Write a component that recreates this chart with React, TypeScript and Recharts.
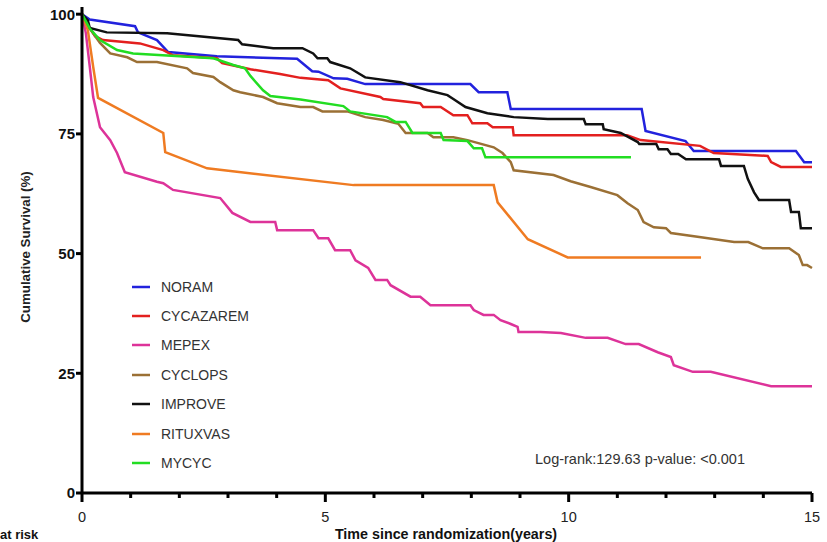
import { LineChart, Line, XAxis, YAxis, Legend } from 'recharts';

// Kaplan-Meier style survival curves (years, %)
const noramT = [0, 0.16, 1.09, 1.15, 1.54, 1.77, 2.77, 4.42, 4.73, 4.86, 5.17, 5.45, 5.82, 7.98, 8.15, 8.74, 8.81, 11.5, 11.58, 12.4, 12.57, 14.67, 14.84, 15];
const noramS = [100, 98.9, 97.5, 96.2, 94.6, 92.1, 91.2, 90.7, 88.1, 88.0, 86.6, 86.5, 85.4, 85.4, 83.7, 83.7, 80.2, 80.2, 75.6, 73.5, 71.4, 71.4, 69.1, 69.1];

const cycazaremT = [0, 0.12, 0.27, 0.43, 1.19, 1.67, 1.87, 2.77, 2.88, 3.46, 4.07, 4.49, 5.06, 5.31, 6.13, 6.19, 6.95, 7.01, 7.37, 7.63, 7.92, 8.02, 8.33, 8.44, 8.85, 8.87, 11.2, 11.48, 12.7, 12.98, 14.09, 14.16, 14.36, 15];
const cycazaremS = [100, 97.7, 95.4, 94.6, 93.9, 92.5, 91.4, 90.8, 89.8, 88.5, 87.5, 86.7, 86.2, 84.5, 82.7, 82.3, 81.4, 80.6, 80.6, 78.9, 78.9, 77.2, 77.2, 76.4, 76.4, 74.7, 74.7, 73.7, 72.5, 71.0, 70.4, 69.1, 68.1, 68.1];

const mepexT = [0, 0.08, 0.16, 0.23, 0.37, 0.58, 0.72, 0.88, 1.54, 1.67, 1.87, 2.84, 3.09, 3.46, 3.97, 4.01, 4.75, 4.86, 5.06, 5.2, 5.51, 5.62, 5.88, 6.03, 6.27, 6.34, 6.75, 6.95, 7.16, 7.98, 8.05, 8.25, 8.46, 8.6, 8.81, 8.95, 8.97, 9.42, 9.84, 10.35, 10.8, 11.17, 11.44, 11.83, 12.1, 12.16, 12.55, 12.92, 14.16, 15];
const mepexS = [100, 96, 89, 82.7, 76.4, 73.7, 71, 67, 65, 64.7, 63.3, 61.6, 58.5, 56.6, 56.6, 54.9, 54.9, 53.2, 53.2, 50.7, 50.7, 48.6, 47, 44.5, 44.5, 43.4, 41, 41, 39.2, 39.2, 38.2, 37.2, 37.2, 36.1, 35.3, 34.7, 33.6, 33.6, 33.4, 32.4, 32.4, 31.1, 31.1, 29.4, 28.4, 26.7, 25.3, 25.3, 22.3, 22.3];

const cyclopsT = [0, 0.16, 0.37, 0.58, 0.93, 1.13, 1.54, 2.16, 2.28, 2.7, 2.84, 3.11, 3.25, 3.72, 4.01, 4.49, 4.75, 4.94, 5.45, 5.82, 6.19, 6.5, 6.65, 7.1, 7.22, 7.63, 7.92, 8.46, 8.64, 8.81, 8.87, 9.69, 10.04, 10.45, 11.0, 11.21, 11.42, 11.54, 11.75, 12.0, 12.1, 12.72, 13.4, 13.69, 13.99, 14.53, 14.73, 14.81, 14.9, 15];
const cyclopsS = [100, 97, 94, 91.8, 91, 90, 90, 88.7, 87.7, 86.9, 85.8, 84.1, 83.7, 82.7, 81.4, 80.6, 80.6, 79.7, 79.7, 78.5, 77.9, 77.1, 75.2, 75.2, 74.3, 74.3, 73.7, 72.2, 71, 69.1, 67.4, 66.4, 65.1, 63.9, 62.2, 60.5, 59.1, 56.6, 55.5, 55.3, 54.3, 53.4, 52.4, 52.4, 51.1, 51.1, 49.7, 47.6, 47.6, 47];

const improveT = [0, 0.12, 0.16, 0.51, 1.75, 3.21, 3.29, 3.93, 4.53, 4.75, 4.84, 5.04, 5.1, 5.51, 5.82, 6.54, 7.1, 7.51, 7.63, 7.88, 8.33, 8.87, 9.57, 10.31, 10.35, 10.7, 10.72, 11.07, 11.42, 11.45, 11.8, 11.85, 12.03, 12.1, 12.25, 12.41, 13.09, 13.13, 13.6, 13.68, 13.81, 13.91, 14.53, 14.57, 14.73, 14.77, 15];
const improveS = [100, 98.7, 97.1, 96.2, 96, 94.6, 93.7, 92.9, 92.9, 91.8, 90.8, 90.8, 90, 88.7, 86.8, 85.8, 84.1, 83.1, 82.3, 80.6, 79.3, 78.5, 78.1, 78.1, 77, 77, 76, 75.2, 73.3, 72.9, 72.9, 71.8, 71.8, 70.8, 70.8, 69.7, 69.7, 68.3, 68.3, 65.6, 62.8, 61.2, 61.2, 58.7, 58.7, 55.3, 55.3];

const rituxvasT = [0, 0.12, 0.23, 0.33, 1.67, 1.71, 2.57, 5.58, 8.46, 8.54, 9.16, 9.98, 12.72];
const rituxvasS = [100, 96.7, 89, 82.5, 75.2, 71.2, 67.8, 64.3, 64.3, 60.7, 53, 49.2, 49.2];

const mycycT = [0, 0.16, 0.37, 0.72, 1.05, 2.7, 3.11, 3.35, 3.46, 3.72, 3.87, 4.49, 5.37, 5.51, 6.27, 6.44, 6.65, 6.79, 7.37, 7.43, 7.92, 8.05, 8.22, 8.29, 11.28];
const mycycS = [100, 97, 94.6, 92.5, 91.8, 90.8, 89.4, 88.7, 87.1, 84.1, 82.9, 82.2, 80.8, 79.7, 78.5, 77.5, 77.5, 75.2, 75.2, 73.7, 73.5, 72, 72, 70.1, 70.1];

const xTicks = [0, 1, 2, 3, 4, 5, 6, 7, 8, 9, 10, 11, 12, 13, 14, 15];
const yTicks = [0, 25, 50, 75, 100];

const toPoints = (t: number[], s: number[]) => t.map((x, i) => ({ t: x, s: s[i] }));

const series = [
  { name: 'NORAM', color: '#2222dd', data: toPoints(noramT, noramS) },
  { name: 'CYCAZAREM', color: '#e3201f', data: toPoints(cycazaremT, cycazaremS) },
  { name: 'MEPEX', color: '#dd3399', data: toPoints(mepexT, mepexS) },
  { name: 'CYCLOPS', color: '#9b7035', data: toPoints(cyclopsT, cyclopsS) },
  { name: 'IMPROVE', color: '#111111', data: toPoints(improveT, improveS) },
  { name: 'RITUXVAS', color: '#ef7b22', data: toPoints(rituxvasT, rituxvasS) },
  { name: 'MYCYC', color: '#22dd22', data: toPoints(mycycT, mycycS) },
];

const FONT = '"Liberation Sans", Arial, sans-serif';

function XTick({ x, y, payload }: any) {
  const major = payload.value % 5 === 0;
  return (
    <g>
      <line x1={x} y1={y} x2={x} y2={y + (major ? 9 : 5)} stroke="#000" strokeWidth={3} />
      {major && (
        <text x={x} y={y + 29} textAnchor="middle" fontSize={14.5} fill="#222" fontFamily={FONT}>
          {payload.value}
        </text>
      )}
    </g>
  );
}

function LegendBox() {
  return (
    <div style={{ fontFamily: FONT, fontSize: 14, color: '#333' }}>
      {series.map((s) => (
        <div key={s.name} style={{ height: 29.4, display: 'flex', alignItems: 'center' }}>
          <svg width={18} height={4} style={{ marginRight: 11 }}>
            <line x1={0} y1={2} x2={18} y2={2} stroke={s.color} strokeWidth={2.5} />
          </svg>
          <span>{s.name}</span>
        </div>
      ))}
    </div>
  );
}

export default function App() {
  return (
    <div style={{ position: 'absolute', left: 0, top: 0, width: 827, height: 542, background: '#fff', overflow: 'hidden', fontFamily: FONT }}>
      <LineChart width={827} height={542} margin={{ top: 7, right: 15, left: 0, bottom: 0 }}>
        <XAxis
          type="number"
          dataKey="t"
          domain={[0, 15]}
          ticks={xTicks}
          interval={0}
          height={49}
          tickSize={0}
          tickMargin={0}
          tickLine={false}
          axisLine={{ stroke: '#000', strokeWidth: 3 }}
          tick={<XTick />}
        />
        <YAxis
          type="number"
          domain={[0, 101.5]}
          ticks={yTicks}
          width={82}
          tickSize={6}
          tickMargin={1}
          tickLine={{ stroke: '#000', strokeWidth: 3 }}
          axisLine={{ stroke: '#000', strokeWidth: 3 }}
          tick={{ fontSize: 15, fontWeight: 'bold', fill: '#111', fontFamily: FONT }}
        />
        <Legend
          layout="vertical"
          align="center"
          verticalAlign="middle"
          wrapperStyle={{ left: 132, top: 272, width: 160 }}
          content={<LegendBox />}
        />
        {series.map((s) => (
          <Line
            key={s.name}
            data={s.data}
            dataKey="s"
            name={s.name}
            type="linear"
            stroke={s.color}
            strokeWidth={2.5}
            dot={false}
            isAnimationActive={false}
          />
        ))}
      </LineChart>
      <div style={{ position: 'absolute', left: 25, top: 247, transform: 'translate(-50%, -50%) rotate(-90deg)', whiteSpace: 'nowrap', fontSize: 13.3, fontWeight: 'bold', color: '#222' }}>
        Cumulative Survival (%)
      </div>
      <div style={{ position: 'absolute', left: 446, top: 526, transform: 'translateX(-50%)', whiteSpace: 'nowrap', fontSize: 14.3, fontWeight: 'bold', color: '#111' }}>
        Time since randomization(years)
      </div>
      <div style={{ position: 'absolute', left: 0, top: 528, lineHeight: '13px', whiteSpace: 'nowrap', fontSize: 13, fontWeight: 'bold', color: '#111' }}>
        at risk
      </div>
      <div style={{ position: 'absolute', left: 535, top: 451, whiteSpace: 'nowrap', fontSize: 14.5, color: '#333' }}>
        Log-rank:129.63 p-value: &lt;0.001
      </div>
    </div>
  );
}
